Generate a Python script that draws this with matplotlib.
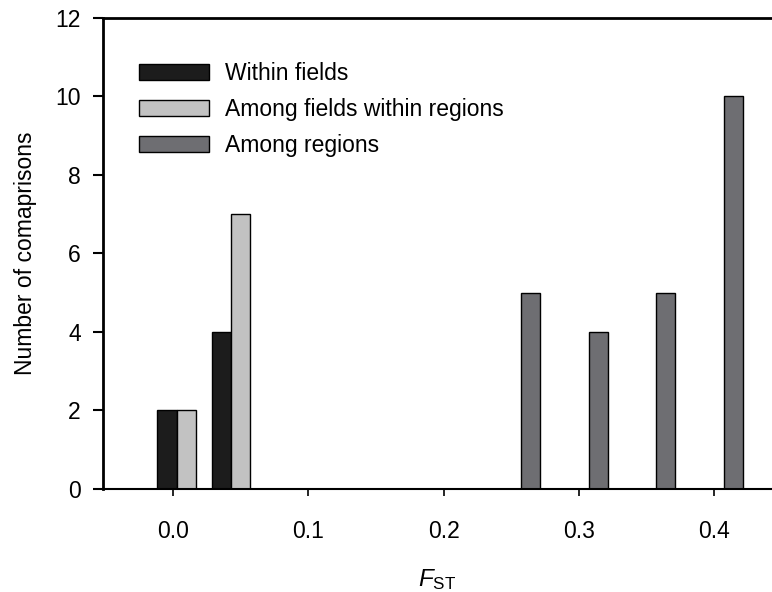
import numpy as np
import matplotlib
matplotlib.use('Agg')
import matplotlib.pyplot as plt

# bin centres (F_ST) and counts
bins = [0.01, 0.05, 0.25, 0.30, 0.35, 0.40]
within_fields = [2, 4, 0, 0, 0, 0]
among_fields = [2, 7, 0, 0, 0, 0]
among_regions = [0, 0, 5, 4, 5, 10]
labels = ['Within fields', 'Among fields within regions', 'Among regions']
colors = ['#1c1c1c', '#c2c2c2', '#6e6e72']
xticks = [0.0, 0.1, 0.2, 0.3, 0.4]
yticks = [0, 2, 4, 6, 8, 10, 12]

plt.rcParams['font.family'] = ['Liberation Sans', 'DejaVu Sans']
plt.rcParams['mathtext.fontset'] = 'custom'
plt.rcParams['mathtext.rm'] = 'Liberation Sans'
plt.rcParams['mathtext.it'] = 'Liberation Sans:italic'

W = 0.0142  # bar width
FS = 16.5
fig = plt.figure(figsize=(7.72, 5.92), dpi=100)
ax = fig.add_axes([0.1334, 0.174, 0.8666, 0.7956])

x = np.array(bins)
for i, (vals, lab, col) in enumerate(zip([within_fields, among_fields, among_regions], labels, colors)):
    v = np.array(vals)
    m = v > 0  # skip empty bins
    ax.bar(x[m] + (i - 1) * W, v[m], width=W, color=col, edgecolor='black', linewidth=1.0, label=lab)

ax.set_xlim(-0.0515, 0.4426)
ax.set_ylim(0, 12)
ax.set_xticks(xticks)
ax.set_xticklabels(['%.1f' % t for t in xticks])
ax.set_yticks(yticks)

ax.spines['right'].set_visible(False)
ax.spines['top'].set_linewidth(2.0)
ax.spines['left'].set_linewidth(2.0)
ax.spines['bottom'].set_linewidth(1.5)
ax.tick_params(axis='x', direction='out', length=5, width=1.2, pad=17, labelsize=FS)
ax.tick_params(axis='y', direction='out', length=7, width=1.5, pad=9, labelsize=FS)

ax.set_ylabel('Number of comaprisons', fontsize=FS, labelpad=13)
ax.set_xlabel(r'$F_{\mathrm{ST}}$', fontsize=FS + 1, labelpad=18)

ax.legend(loc='upper left', bbox_to_anchor=(0.04, 0.925), frameon=False, fontsize=FS,
          handlelength=3.05, handleheight=0.7, handletextpad=0.7, labelspacing=0.55,
          borderaxespad=0)

plt.savefig('out.png', dpi=100)
